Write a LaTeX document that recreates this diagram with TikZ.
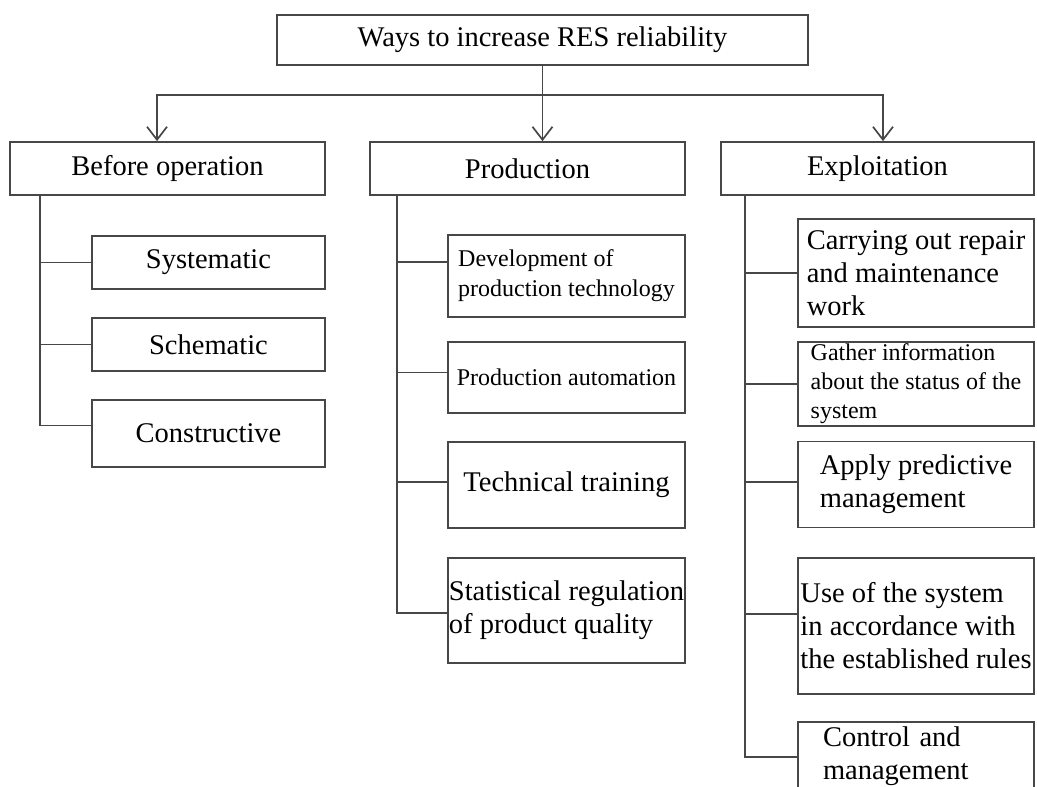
\documentclass[tikz,border=0pt]{standalone}
\usepackage{fontspec}
\setmainfont{Liberation Serif}
\usetikzlibrary{arrows.meta}

\tikzset{
  box/.style={draw=black!72,line width=1.7pt,rectangle,inner sep=0pt,
    font=\fontsize{28.5}{33}\selectfont},
  smalltext/.style={font=\fontsize{24}{30}\selectfont},
  link/.style={draw=black!72,line width=1.7pt},
  arr/.style={link,-{Straight Barb[length=13pt,width=20pt]}}
}

\begin{document}
\begin{tikzpicture}[x=1pt,y=-1pt]
\useasboundingbox (0,0) rectangle (1037,787);
% root
\node[box,minimum width=531pt,minimum height=50pt] (top) at (542.5,40) {Ways to increase RES reliability};
% stages
\node[box,minimum width=315pt,minimum height=53pt] (before) at (167.5,168.5) {Before operation};
\node[box,minimum width=315pt,minimum height=53pt] (prod) at (527.5,168.5) {Production};
\node[box,minimum width=313pt,minimum height=53pt] (expl) at (877.5,168.5) {Exploitation};
% before operation
\node[box,minimum width=233pt,minimum height=53pt] (sys) at (208.5,262.5) {Systematic};
\node[box,minimum width=233pt,minimum height=53pt] (sch) at (208.5,344.5) {Schematic};
\node[box,minimum width=233pt,minimum height=67pt] (con) at (208.5,433.5) {Constructive};
% production
\node[box,smalltext,align=left,minimum width=237pt,minimum height=82pt] (dev) at (566.5,276) {Development of\\production technology};
\node[box,smalltext,align=left,minimum width=237pt,minimum height=71pt] (auto) at (566.5,377.5) {Production automation};
\node[box,minimum width=237pt,minimum height=86pt] (tech) at (566.5,485) {Technical training};
\node[box,align=left,minimum width=237pt,minimum height=105pt] (stat) at (566.5,610.5) {Statistical regulation\\of product quality};
% exploitation
\node[box,align=left,minimum width=236pt,minimum height=108pt] (carry) at (916,273) {Carrying out repair\\and maintenance\\work};
\node[box,align=left,font=\fontsize{24}{29}\selectfont,minimum width=236pt,minimum height=84pt] (gather) at (916,384) {Gather information\\about the status of the\\system};
\node[box,align=left,minimum width=236pt,minimum height=86pt] (apply) at (916,484.5) {Apply predictive\\management};
\node[box,align=left,minimum width=236pt,minimum height=136pt] (use) at (916,626) {Use of the system\\in accordance with\\the established rules};
\node[box,align=left,inner xsep=25pt,text width=186pt,minimum height=68pt] (ctrl) at (916,756) {Control and\\management};

% arrows from the root
\draw[arr] (top.south) -- ++(0,29) -| ([xshift=-10.5pt]before.north);
\draw[arr] (top.south) -- ([xshift=15pt]prod.north);
\draw[arr] (top.south) -- ++(0,29) -| ([xshift=5.5pt]expl.north);

% trunks
\path (before.south west) ++(31,0) coordinate (trunkB);
\path (prod.south west) ++(28,0) coordinate (trunkP);
\path (expl.south west) ++(25,0) coordinate (trunkE);
\foreach \c/\s in {sys/0,sch/0,con/8}
  \draw[link] (trunkB) |- ([yshift=\s pt]\c.west);
\foreach \c/\s in {dev/14,auto/5,tech/3,stat/-2.5}
  \draw[link] (trunkP) |- ([yshift=\s pt]\c.west);
\foreach \c/\s in {carry/0,gather/0,apply/2.5,use/12,ctrl/-1}
  \draw[link] (trunkE) |- ([yshift=\s pt]\c.west);
\end{tikzpicture}
\end{document}
